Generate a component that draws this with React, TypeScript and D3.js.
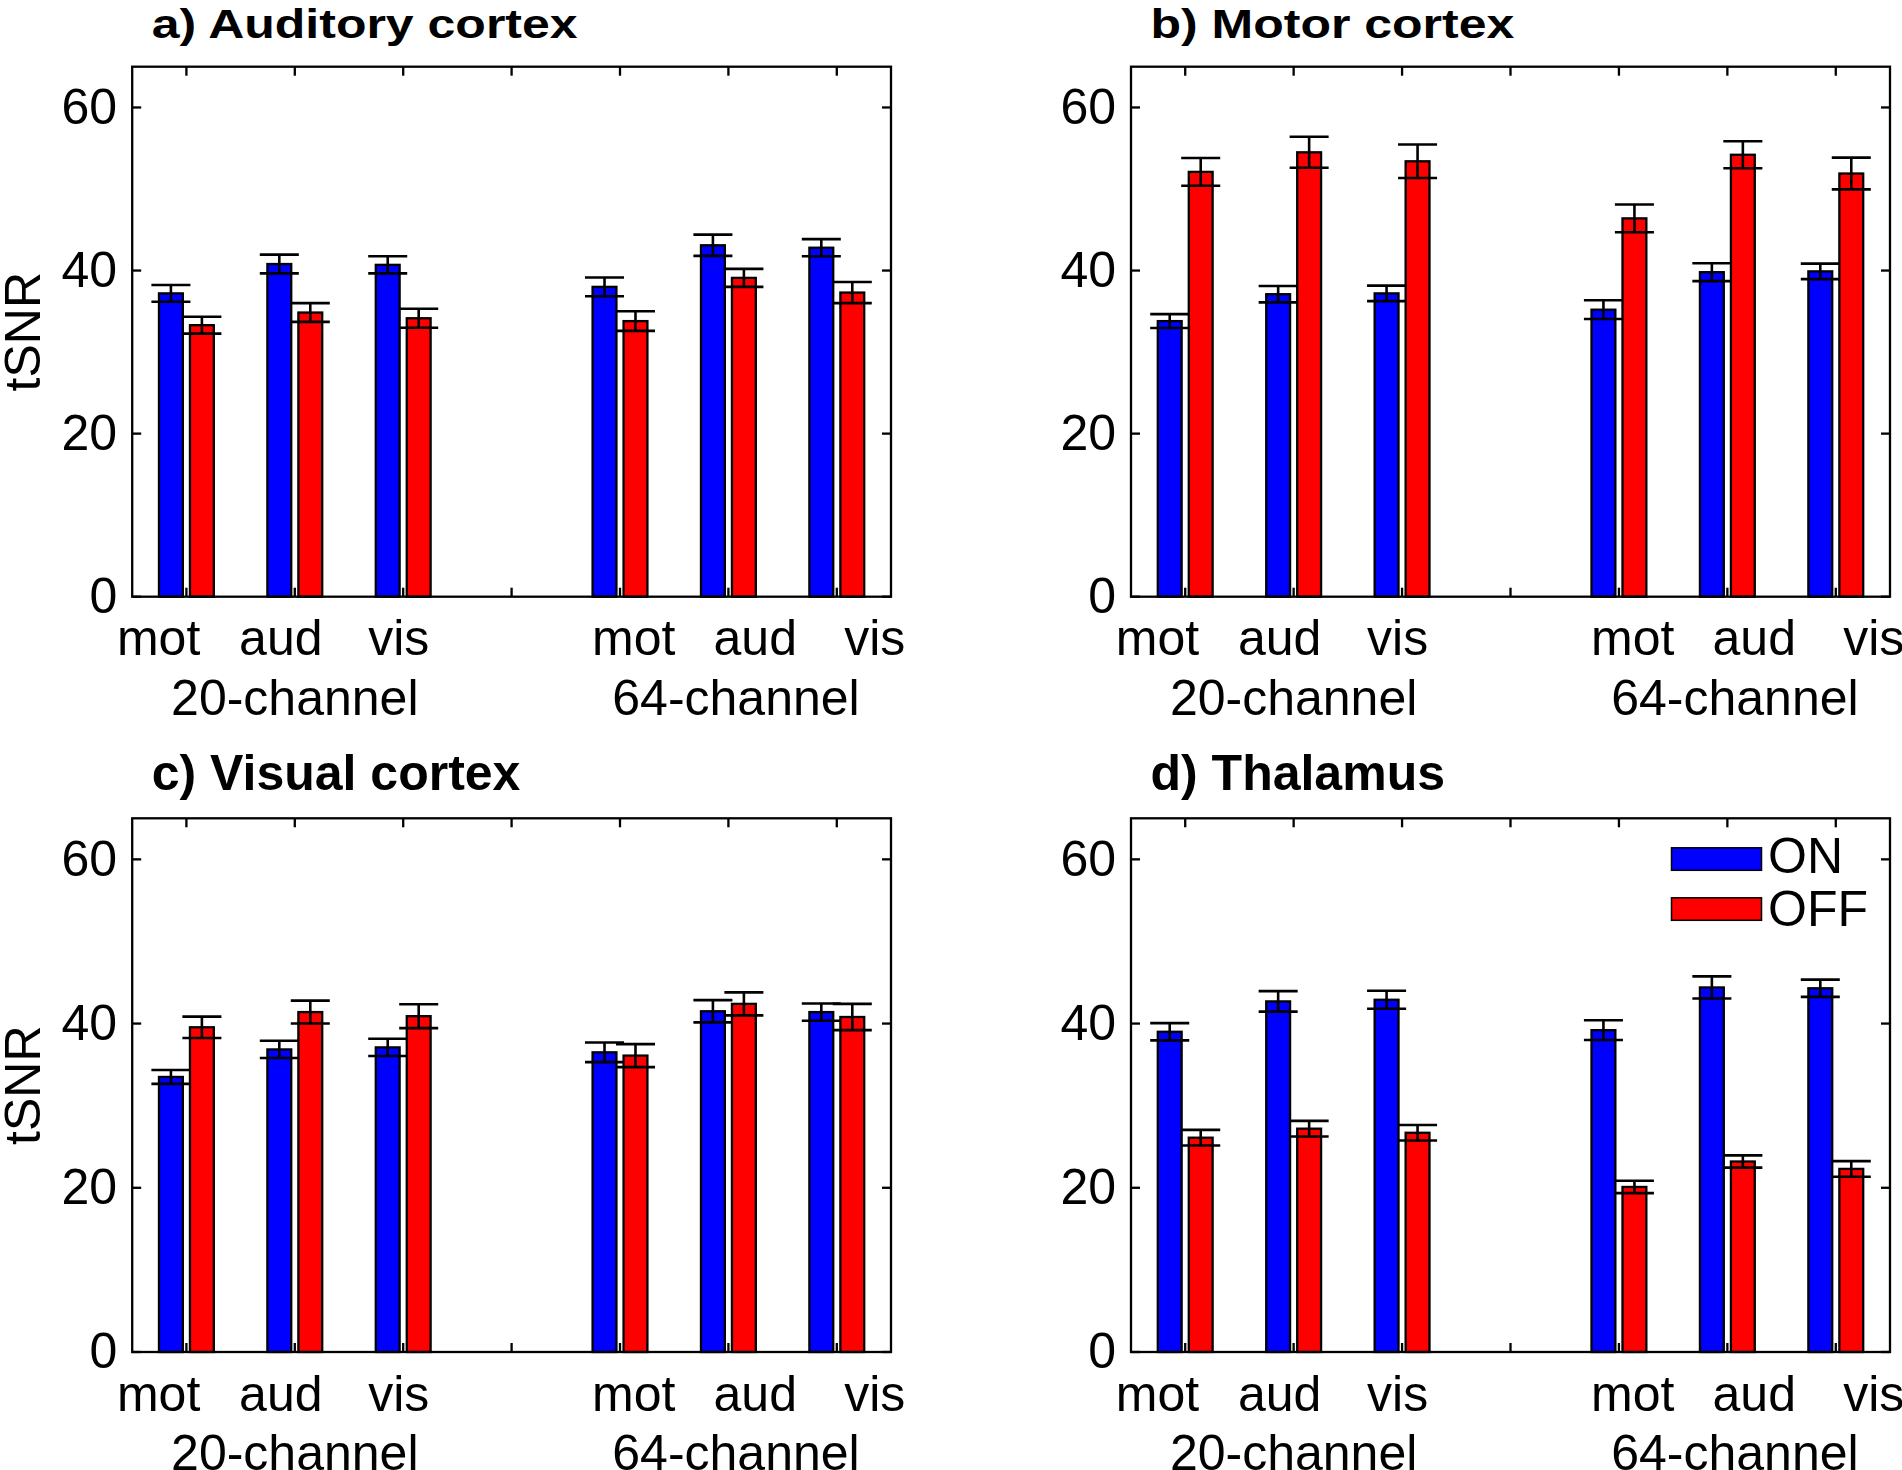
import React from "react";
import * as d3 from "d3";

// ---- data ----
const CATEGORIES = ["mot", "aud", "vis", "mot", "aud", "vis"];
const BAR_X = [1, 2, 3, 5, 6, 7];
const LABEL_X = [0.744, 1.871, 2.959, 5.127, 6.248, 7.35];
const GROUP_LABELS = ["20-channel", "64-channel"];
const GROUP_X = [2.0, 6.07];
const Y_TICKS = [0, 20, 40, 60];
const X_TICKS = [1, 2, 3, 4, 5, 6, 7];
const SERIES = ["ON", "OFF"];

const TITLES = ["a) Auditory cortex", "b) Motor cortex", "c) Visual cortex", "d) Thalamus"];

const A_ON = [37.2, 40.8, 40.7, 38.0, 43.1, 42.8];
const A_ON_ERR = [1.03, 1.15, 1.05, 1.15, 1.3, 1.05];
const A_OFF = [33.3, 34.85, 34.15, 33.8, 39.1, 37.3];
const A_OFF_ERR = [1.03, 1.15, 1.17, 1.2, 1.1, 1.3];

const B_ON = [33.8, 37.1, 37.2, 35.2, 39.8, 39.9];
const B_ON_ERR = [0.85, 1.0, 0.95, 1.15, 1.1, 0.95];
const B_OFF = [52.1, 54.5, 53.4, 46.4, 54.2, 51.9];
const B_OFF_ERR = [1.7, 1.9, 2.05, 1.7, 1.65, 1.95];

const C_ON = [33.5, 36.85, 37.1, 36.5, 41.5, 41.4];
const C_ON_ERR = [0.85, 1.05, 1.05, 1.2, 1.35, 1.05];
const C_OFF = [39.55, 41.4, 40.9, 36.1, 42.4, 40.8];
const C_OFF_ERR = [1.3, 1.4, 1.45, 1.4, 1.4, 1.6];

const D_ON = [39.0, 42.7, 42.9, 39.2, 44.4, 44.3];
const D_ON_ERR = [1.05, 1.25, 1.1, 1.2, 1.35, 1.05];
const D_OFF = [26.1, 27.2, 26.7, 20.1, 23.2, 22.3];
const D_OFF_ERR = [0.95, 0.95, 0.95, 0.75, 0.75, 0.95];

const PANEL_DATA = [
  { on: A_ON, onErr: A_ON_ERR, off: A_OFF, offErr: A_OFF_ERR },
  { on: B_ON, onErr: B_ON_ERR, off: B_OFF, offErr: B_OFF_ERR },
  { on: C_ON, onErr: C_ON_ERR, off: C_OFF, offErr: C_OFF_ERR },
  { on: D_ON, onErr: D_ON_ERR, off: D_OFF, offErr: D_OFF_ERR },
];

// ---- layout / style ----
const W = 1902;
const H = 1470;
const FONT = "'Liberation Sans', Arial, Helvetica, sans-serif";
const COLORS = ["#0000ff", "#ff0000"];
const LAYOUT = [
  { L: 132.2, R: 891, T: 66.7, B: 596.7, titleY: 37.7, squash: 0.8, ylabel: true },
  { L: 1131, R: 1890, T: 66.7, B: 596.7, titleY: 37.7, squash: 0.8, ylabel: false },
  { L: 132.2, R: 891, T: 818.3, B: 1352, titleY: 790, squash: 1, ylabel: true },
  { L: 1131, R: 1890, T: 818.3, B: 1352, titleY: 790, squash: 1, ylabel: false },
];
const BAR_OFFSET = 0.1429;
const BAR_W = 0.22;
const CAP_HALF = 0.18;
const LW = 2.3;
const TICK = 9;
const FS = 50;

function Panel({ idx }: { idx: number }) {
  const lay = LAYOUT[idx];
  const data = PANEL_DATA[idx];
  const x = d3.scaleLinear().domain([0.5, 7.5]).range([lay.L, lay.R]);
  const y = d3.scaleLinear().domain([0, 65]).range([lay.B, lay.T]);
  const series = [
    { vals: data.on, errs: data.onErr, off: -BAR_OFFSET, color: COLORS[0] },
    { vals: data.off, errs: data.offErr, off: BAR_OFFSET, color: COLORS[1] },
  ];
  const bw = x(BAR_W) - x(0);
  const cap = x(CAP_HALF) - x(0);
  return (
    <g>
      {/* title */}
      <text
        transform={`translate(${lay.L + 19.5},${lay.titleY}) scale(1,${lay.squash})`}
        fontFamily={FONT}
        fontWeight="bold"
        fontSize={FS}
        fill="#000"
      >
        {TITLES[idx]}
      </text>
      {/* ticks (behind bars) */}
      {X_TICKS.map((t) => (
        <g key={"xt" + t} stroke="#000" strokeWidth={LW}>
          <line x1={x(t)} x2={x(t)} y1={lay.B} y2={lay.B - TICK} />
          <line x1={x(t)} x2={x(t)} y1={lay.T} y2={lay.T + TICK} />
        </g>
      ))}
      {Y_TICKS.map((t) => (
        <g key={"yt" + t} stroke="#000" strokeWidth={LW}>
          <line x1={lay.L} x2={lay.L + TICK} y1={y(t)} y2={y(t)} />
          <line x1={lay.R} x2={lay.R - TICK} y1={y(t)} y2={y(t)} />
        </g>
      ))}
      {Y_TICKS.map((t) => (
        <text
          key={"yl" + t}
          x={lay.L - 15}
          y={y(t) + 16.3}
          textAnchor="end"
          fontFamily={FONT}
          fontSize={FS}
          fill="#000"
        >
          {t}
        </text>
      ))}
      {/* bars */}
      {series.map((s, si) =>
        s.vals.map((v, i) => (
          <rect
            key={"b" + si + "-" + i}
            x={x(BAR_X[i] + s.off) - bw / 2}
            y={y(v)}
            width={bw}
            height={y(0) - y(v)}
            fill={s.color}
            stroke="#000"
            strokeWidth={LW}
          />
        ))
      )}
      {/* error bars */}
      {series.map((s, si) =>
        s.vals.map((v, i) => {
          const cx = x(BAR_X[i] + s.off);
          const hi = y(v + s.errs[i]);
          const lo = y(v - s.errs[i]);
          return (
            <g key={"e" + si + "-" + i} stroke="#000" strokeWidth={2.6}>
              <line x1={cx} x2={cx} y1={hi} y2={lo} />
              <line x1={cx - cap} x2={cx + cap} y1={hi} y2={hi} />
              <line x1={cx - cap} x2={cx + cap} y1={lo} y2={lo} />
            </g>
          );
        })
      )}
      {/* box */}
      <rect
        x={lay.L}
        y={lay.T}
        width={lay.R - lay.L}
        height={lay.B - lay.T}
        fill="none"
        stroke="#000"
        strokeWidth={LW}
      />
      {/* category labels */}
      {CATEGORIES.map((c, i) => (
        <text
          key={"cl" + i}
          x={x(LABEL_X[i])}
          y={lay.B + 58.5}
          textAnchor="middle"
          fontFamily={FONT}
          fontSize={FS}
          fill="#000"
        >
          {c}
        </text>
      ))}
      {GROUP_LABELS.map((g, i) => (
        <text
          key={"gl" + i}
          x={x(GROUP_X[i])}
          y={lay.B + 118}
          textAnchor="middle"
          fontFamily={FONT}
          fontSize={FS}
          fill="#000"
        >
          {g}
        </text>
      ))}
      {lay.ylabel && (
        <text
          transform={`translate(40,${(lay.T + lay.B) / 2}) rotate(-90)`}
          textAnchor="middle"
          fontFamily={FONT}
          fontSize={FS}
          fill="#000"
        >
          tSNR
        </text>
      )}
      {idx === 3 && (
        <g>
          {SERIES.map((name, i) => (
            <g key={"lg" + i}>
              <rect
                x={lay.R - 218.5}
                y={lay.T + 29.5 + i * 50}
                width={90}
                height={22.5}
                fill={COLORS[i]}
                stroke="#000"
                strokeWidth={1.5}
              />
              <text
                x={lay.R - 122}
                y={lay.T + 55 + i * 52.7}
                fontFamily={FONT}
                fontSize={FS}
                fill="#000"
              >
                {name}
              </text>
            </g>
          ))}
        </g>
      )}
    </g>
  );
}

export default function App() {
  return (
    <svg
      width={W}
      height={H}
      viewBox={`0 0 ${W} ${H}`}
      style={{ position: "absolute", left: 0, top: 0, background: "#fff" }}
    >
      <rect x={0} y={0} width={W} height={H} fill="#fff" />
      {[0, 1, 2, 3].map((i) => (
        <Panel key={i} idx={i} />
      ))}
    </svg>
  );
}
